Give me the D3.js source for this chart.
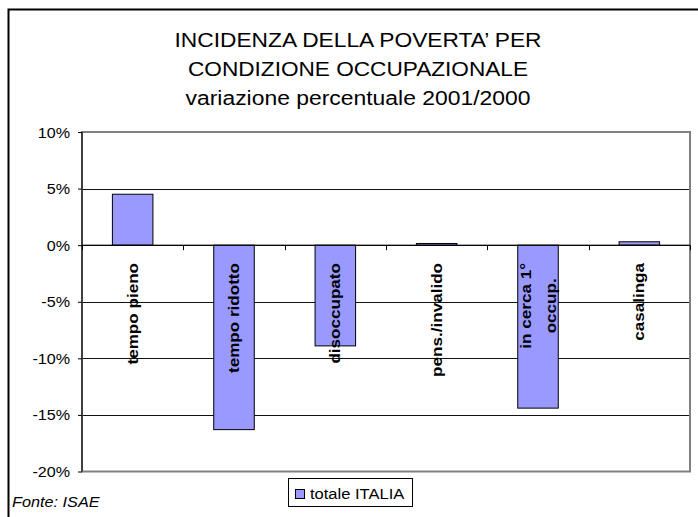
<!DOCTYPE html>
<html>
<head>
<meta charset="utf-8">
<script src="https://cdn.jsdelivr.net/npm/d3@7"></script>
<style>
  body { margin: 0; background: #fff; }
  svg { display: block; font-family: "Liberation Sans", Arial, sans-serif; }
</style>
</head>
<body>
<svg id="chart" width="698" height="517"></svg>
<script>
// ---- data ----
const categories = ["tempo pieno", "tempo ridotto", "disoccupato", "pens./invalido", "in cerca 1°\noccup.", "casalinga"];
const values = [4.5, -16.3, -8.9, 0.15, -14.4, 0.3];
const yTicks = [10, 5, 0, -5, -10, -15, -20];
const titleLines = ["INCIDENZA DELLA POVERTA’ PER", "CONDIZIONE OCCUPAZIONALE", "variazione percentuale 2001/2000"];
const seriesName = "totale ITALIA";
const sourceNote = "Fonte: ISAE";

// ---- layout ----
const svg = d3.select("#chart");
const plot = { left: 82, right: 690, top: 132, bottom: 471.5 };
const barColor = "#9999FF";

// widen glyphs horizontally (the original renders text slightly stretched)
function stretch(sel, factor) {
  sel.each(function () {
    const len = this.getComputedTextLength();
    d3.select(this).attr("textLength", len * factor).attr("lengthAdjust", "spacingAndGlyphs");
  });
  return sel;
}

// outer chart border (extends past the visible window on right/bottom)
svg.append("rect").attr("x", 8.5).attr("y", 9.5).attr("width", 800).attr("height", 600)
  .attr("fill", "none").attr("stroke", "#000").attr("stroke-width", 2);

// title
const titleW = [367, 340, 345];
const titleY = [47, 76, 105];
titleLines.forEach((t, i) => {
  svg.append("text").attr("x", 358).attr("y", titleY[i])
    .attr("text-anchor", "middle").attr("font-size", 20).attr("fill", "#000")
    .attr("textLength", titleW[i]).attr("lengthAdjust", "spacingAndGlyphs")
    .text(t);
});

// scales
const x = d3.scaleBand().domain(categories).range([plot.left, plot.right])
  .paddingInner(0.6).paddingOuter(0.3);
const y = d3.scaleLinear().domain([-20, 10]).range([plot.bottom, plot.top]);

// gridlines
svg.append("g").selectAll("line").data(yTicks.filter(d => d !== 10 && d !== -20)).join("line")
  .attr("x1", plot.left).attr("x2", plot.right)
  .attr("y1", d => Math.round(y(d)) + 0.5).attr("y2", d => Math.round(y(d)) + 0.5)
  .attr("stroke", "#111").attr("stroke-width", 1);

// plot border (gray)
svg.append("rect").attr("x", plot.left).attr("y", plot.top)
  .attr("width", plot.right - plot.left).attr("height", plot.bottom - plot.top)
  .attr("fill", "none").attr("stroke", "#808080").attr("stroke-width", 2);

// y axis
const yAxis = d3.axisLeft(y).tickValues(yTicks).tickSize(4).tickPadding(8)
  .tickFormat(d => d + "%");
const yg = svg.append("g").attr("transform", `translate(${plot.left},0)`).call(yAxis);
yg.select(".domain").attr("stroke", "#000").attr("d", `M0,${plot.top}V${plot.bottom}`);
yg.selectAll(".tick line").attr("stroke", "#000");
yg.selectAll(".tick text").attr("font-size", 14).attr("font-family", "Liberation Sans, Arial, sans-serif")
  .attr("fill", "#000").attr("dy", "0.36em");
stretch(yg.selectAll(".tick text"), 1.15);

// bars
svg.append("g").selectAll("rect").data(categories).join("rect")
  .attr("x", d => x(d))
  .attr("width", x.bandwidth())
  .attr("y", (d, i) => y(Math.max(0, values[i])))
  .attr("height", (d, i) => Math.abs(y(values[i]) - y(0)))
  .attr("fill", barColor).attr("stroke", "#000").attr("stroke-width", 1);

// zero axis line
svg.append("line").attr("x1", plot.left).attr("x2", plot.right)
  .attr("y1", y(0)).attr("y2", y(0)).attr("stroke", "#000").attr("stroke-width", 1);

// category ticks (boundaries)
const step = x.step();
const x0 = plot.left;
svg.append("g").selectAll("line").data(d3.range(categories.length + 1)).join("line")
  .attr("x1", i => Math.round(x0 + i * step) + 0.5).attr("x2", i => Math.round(x0 + i * step) + 0.5)
  .attr("y1", y(0)).attr("y2", y(0) + 5).attr("stroke", "#000");

// category labels (rotated)
const labelTop = 263;
const lineGap = 25;
categories.forEach((c, i) => {
  const lines = c.split("\n");
  const cx = x(c) + x.bandwidth() / 2;
  const g = svg.append("g");
  const texts = lines.map((l, j) => {
    const dx = (j - (lines.length - 1) / 2) * lineGap;
    const t = g.append("text")
      .attr("transform", `translate(${cx + dx},0) rotate(-90)`)
      .attr("dy", "0.36em")
      .attr("font-size", 14).attr("font-weight", "bold")
      .attr("fill", "#000").text(l);
    stretch(t, 1.22);
    return t;
  });
  const lens = texts.map(t => +t.attr("textLength"));
  const maxLen = d3.max(lens);
  const mid = labelTop + maxLen / 2;
  texts.forEach(t => t.attr("x", -mid).attr("text-anchor", "middle"));
});

// legend
const lg = svg.append("g");
lg.append("rect").attr("x", 288.5).attr("y", 478.5).attr("width", 124).attr("height", 28)
  .attr("fill", "#fff").attr("stroke", "#000");
lg.append("rect").attr("x", 295.5).attr("y", 489.5).attr("width", 9).attr("height", 9)
  .attr("fill", barColor).attr("stroke", "#000");
stretch(lg.append("text").attr("x", 310).attr("y", 499).attr("font-size", 14)
  .attr("fill", "#000").text(seriesName), 1.18);

// source note
stretch(svg.append("text").attr("x", 12).attr("y", 507).attr("font-size", 14)
  .attr("font-style", "italic").attr("fill", "#000")
  .text(sourceNote), 1.16);
</script>
</body>
</html>
